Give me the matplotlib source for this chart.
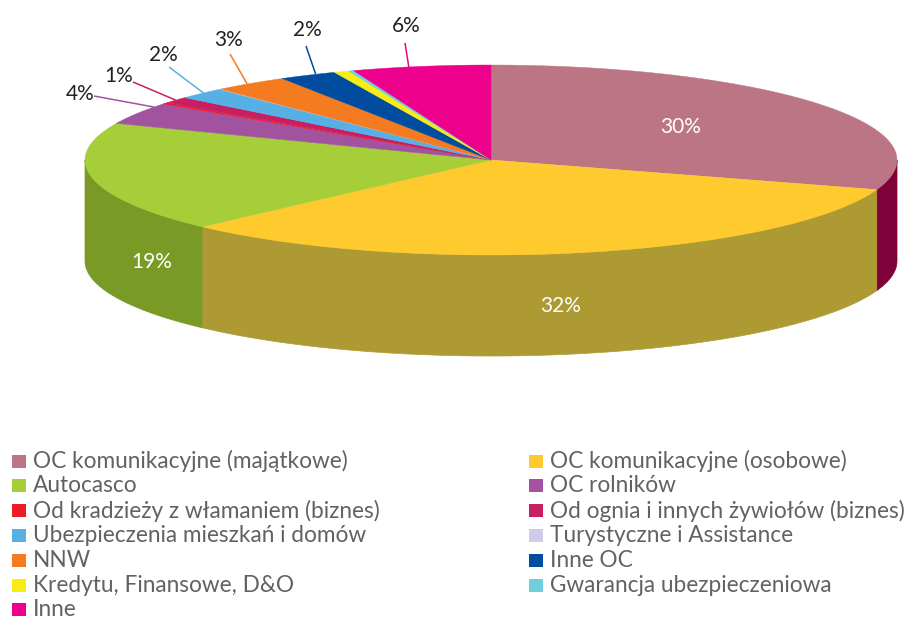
import numpy as np
import matplotlib
matplotlib.use("Agg")
import matplotlib.pyplot as plt
from matplotlib.patches import Polygon, Rectangle

categories = [
    "OC komunikacyjne (majątkowe)", "OC komunikacyjne (osobowe)", "Autocasco",
    "OC rolników", "Od kradzieży z włamaniem (biznes)",
    "Od ognia i innych żywiołów (biznes)", "Ubezpieczenia mieszkań i domów",
    "Turystyczne i Assistance", "NNW", "Inne OC", "Kredytu, Finansowe, D&O",
    "Gwarancja ubezpieczeniowa", "Inne",
]
values = [30.05, 32.55, 18.7, 3.75, 0.25, 1.1, 1.95, 0.05, 3.0, 2.3, 0.6, 0.2, 5.5]
labels = ["30%", "32%", "19%", "4%", None, "1%", "2%", None, "3%", "2%", None, None, "6%"]
colors = ["#bc7585", "#ffca2e", "#a6ce39", "#a1539f", "#ee1c25", "#c81e63", "#57b0e3",
          "#cfcbe8", "#f47b20", "#004da0", "#f8ec13", "#6fcfdf", "#ec008c"]
side_colors = ["#80003a", "#ad9a33", "#7a9a26", "#6f3a6d", "#a01318", "#8a1444", "#3c7a9e",
               "#908da2", "#aa5516", "#00356f", "#ada40d", "#4d909b", "#a40061"]

# label positions in pixels, (x, y, has leader)
label_pos = [(681, 127, False), (561, 306, False), (152, 262, False), (80, 94, True), None,
             (119, 76, True), (163, 55, True), None, (229, 40, True), (307, 30, True),
             None, None, (406, 26, True)]
# outer end of each leader, and where along its slice the leader meets the rim
leader_ends = {3: (94, 96), 5: (133, 82), 6: (169, 67), 8: (230, 54), 9: (306, 46), 12: (405, 43)}
leader_frac = {3: 0.83, 5: 0.5, 6: 0.55, 8: 0.45, 9: 0.65, 12: 0.41}

cx, cy, rx, ry, depth = 491, 160, 406, 95, 101
font = "Lato"
legend_grey = "#626262"

fig = plt.figure(figsize=(9.09, 6.21), dpi=100)
ax = fig.add_axes([0, 0, 1, 1])
ax.set_xlim(0, 909)
ax.set_ylim(621, 0)
ax.axis("off")


def rim(a, b, n=120):
    t = np.radians(np.linspace(a, b, n))
    return cx + rx * np.sin(t), cy - ry * np.cos(t)


edges = np.concatenate([[0], np.cumsum(values)]) / sum(values) * 360

# outer walls, only the front half of the ellipse can be seen
for i, c in enumerate(side_colors):
    a, b = max(edges[i], 90), min(edges[i + 1], 270)
    if b <= a:
        continue
    x, y = rim(a, b)
    pts = np.r_[np.c_[x, y], np.c_[x[::-1], y[::-1] + depth]]
    ax.add_patch(Polygon(pts, closed=True, fc=c, ec=c, lw=0.5))

# top of the pie
for i, c in enumerate(colors):
    x, y = rim(edges[i], edges[i + 1])
    pts = np.r_[[[cx, cy]], np.c_[x, y]]
    ax.add_patch(Polygon(pts, closed=True, fc=c, ec=c, lw=0.3))

# data labels and leader lines
for i, lab in enumerate(labels):
    if lab is None:
        continue
    lx, ly, leader = label_pos[i]
    if leader:
        at = edges[i] + leader_frac[i] * (edges[i + 1] - edges[i])
        x, y = rim(at, at, 1)
        ex, ey = leader_ends[i]
        ax.plot([ex, x[0]], [ey, y[0]], color=colors[i], lw=1.1, solid_capstyle="butt")
    ax.text(lx, ly, lab, ha="center", va="center", family=font, fontsize=15,
            color="#222222" if leader else "white")

# legend, filled row by row in two columns
for i, name in enumerate(categories):
    row, col = i // 2, i % 2
    y = 461 + row * 24.8
    x = [12, 529][col]
    ax.add_patch(Rectangle((x, y - 6.5), 14, 13, fc=colors[i], ec="none"))
    ax.text(x + 21, y, name, ha="left", va="center", family=font, fontsize=16.3,
            color=legend_grey)

fig.savefig("out.png", dpi=100)
